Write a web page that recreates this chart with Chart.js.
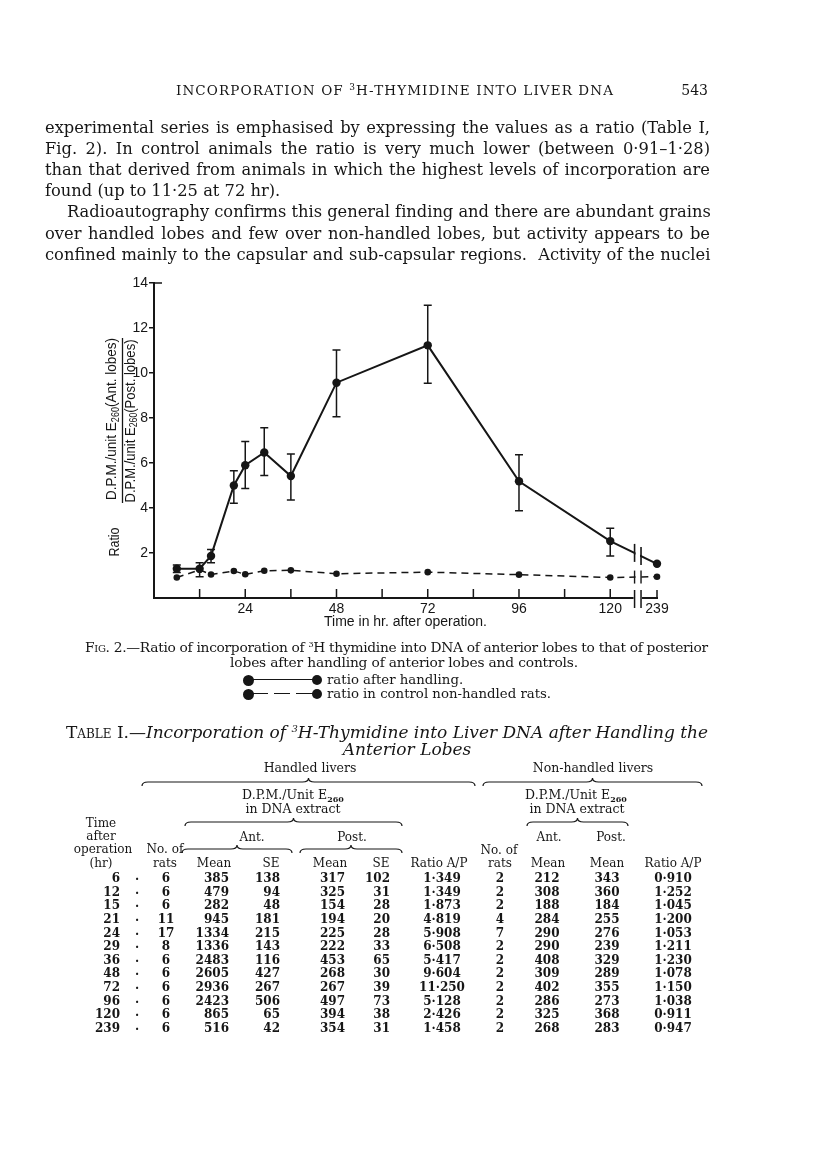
<!DOCTYPE html>
<html><head><meta charset="utf-8">
<script src="https://cdn.jsdelivr.net/npm/chart.js@4.4.0/dist/chart.umd.min.js"></script>
<style>
html,body{margin:0;padding:0;background:#fff;}
body{width:816px;height:1170px;position:relative;overflow:hidden;font-family:"DejaVu Serif",serif;color:#161616;}
.t{position:absolute;white-space:nowrap;line-height:1;}
.sc{font-variant:small-caps;}
.num{font-weight:bold;font-size:12px;}
.hd{font-size:12px;}
sub.s{font-size:8px;vertical-align:-3px;font-weight:bold;}
#chartBox{position:absolute;left:60px;top:270px;width:620px;height:370px;}
.dot{position:absolute;border-radius:50%;background:#161616;}
.bar{position:absolute;height:0;border-top:1.5px solid #161616;}
</style></head><body>
<div id="chartBox"><canvas id="c" width="620" height="370"></canvas></div>
<svg id="braces" width="816" height="1170" style="position:absolute;left:0;top:0;pointer-events:none"></svg>
<script>
// ---------- DATA ----------
const hours = [6, 12, 15, 21, 24, 29, 36, 48, 72, 96, 120, 239];
// ratio after handling, as plotted in Fig. 2
const handledRatio = [1.30, 1.30, 1.87, 5.00, 5.90, 6.47, 5.42, 9.57, 11.23, 5.19, 2.53, 1.52];
const handledUpper = [1.47, 1.57, 2.16, 5.66, 6.96, 7.57, 6.40, 11.02, 13.01, 6.37, 3.10, null];
const handledLower = [1.13, 0.95, 1.57, 4.21, 4.87, 5.44, 4.36, 8.06, 9.54, 3.88, 1.87, null];
// Table I columns
const handledRats = [6, 6, 6, 11, 17, 8, 6, 6, 6, 6, 6, 6];
const antMean = [385, 479, 282, 945, 1334, 1336, 2483, 2605, 2936, 2423, 865, 516];
const antSE = [138, 94, 48, 181, 215, 143, 116, 427, 267, 506, 65, 42];
const postMean = [317, 325, 154, 194, 225, 222, 453, 268, 267, 497, 394, 354];
const postSE = [102, 31, 28, 20, 28, 33, 65, 30, 39, 73, 38, 31];
const ratioAP = [1.349, 1.349, 1.873, 4.819, 5.908, 6.508, 5.417, 9.604, 11.250, 5.128, 2.426, 1.458];
const controlRats = [2, 2, 2, 4, 7, 2, 2, 2, 2, 2, 2, 2];
const controlAnt = [212, 308, 188, 284, 290, 290, 408, 309, 402, 286, 325, 268];
const controlPost = [343, 360, 184, 255, 276, 239, 329, 289, 355, 273, 368, 283];
const controlRatio = [0.910, 1.252, 1.045, 1.200, 1.053, 1.211, 1.230, 1.078, 1.150, 1.038, 0.911, 0.947];
// axis
const xTickMarks = [12, 24, 36, 48, 60, 72, 84, 96, 108, 120];
const xTickLabels = [24, 48, 72, 96, 120, 239];
const yTickLabels = [2, 4, 6, 8, 10, 12, 14];

// ---------- broken x axis ----------
const BREAK_POS = 132.3;           // axis position where 239 hr is drawn
const BREAK_L = 126.4, BREAK_R = 128.1;
function axisPos(h){ return h > 130 ? BREAK_POS : h; }

const INK = '#161616';
const SANS = 'Liberation Sans, Arial, sans-serif';

function drawRotText(ctx, cx, cy, parts, target){
  const big = '15px ' + SANS, small = '10px ' + SANS;
  let total = 0;
  parts.forEach(p => { ctx.font = p.sub ? small : big; p.w = ctx.measureText(p.t).width; total += p.w; });
  const k = target / total;
  ctx.save();
  ctx.translate(cx, cy); ctx.rotate(-Math.PI/2); ctx.scale(k, 1);
  ctx.fillStyle = INK; ctx.textBaseline = 'middle'; ctx.textAlign = 'left';
  let xx = -total/2;
  parts.forEach(p => { ctx.font = p.sub ? small : big; ctx.fillText(p.t, xx, p.sub ? 4 : 0); xx += p.w; });
  ctx.restore();
}

const paperPlugin = {
  id: 'paper',
  afterDatasetsDraw(chart){
    const {ctx, scales:{x, y}, chartArea} = chart;
    ctx.save();
    ctx.strokeStyle = INK; ctx.lineWidth = 1.5;
    // error bars
    hours.forEach((h, i) => {
      if (handledUpper[i] == null) return;
      const px = x.getPixelForValue(axisPos(h));
      const yu = y.getPixelForValue(handledUpper[i]), yl = y.getPixelForValue(handledLower[i]);
      ctx.beginPath();
      ctx.moveTo(px, yu); ctx.lineTo(px, yl);
      ctx.moveTo(px-4, yu); ctx.lineTo(px+4, yu);
      ctx.moveTo(px-4, yl); ctx.lineTo(px+4, yl);
      ctx.stroke();
    });
    // break gap
    const bx1 = x.getPixelForValue(BREAK_L), bx2 = x.getPixelForValue(BREAK_R);
    const yb = y.getPixelForValue(0);
    ctx.fillStyle = '#fff';
    ctx.fillRect(bx1+1, chartArea.top, bx2-bx1-2, yb - chartArea.top + 14);
    const n = hours.length;
    const xa = x.getPixelForValue(axisPos(hours[n-2])), xb = x.getPixelForValue(axisPos(hours[n-1]));
    [[handledRatio, 9, 1.6], [controlRatio, 6.5, 1.4]].forEach(([arr, hh, lw]) => {
      const ya = y.getPixelForValue(arr[n-2]), ybb = y.getPixelForValue(arr[n-1]);
      ctx.lineWidth = lw;
      [bx1, bx2].forEach(bx => {
        const yy = ya + (ybb - ya) * (bx - xa) / (xb - xa);
        ctx.beginPath(); ctx.moveTo(bx, yy-hh); ctx.lineTo(bx, yy+hh); ctx.stroke();
      });
    });
    // x axis line with gap
    ctx.lineWidth = 2;
    const xEnd = x.getPixelForValue(BREAK_POS);
    ctx.beginPath();
    ctx.moveTo(chartArea.left - 1, yb); ctx.lineTo(bx1 - 1, yb);
    ctx.moveTo(bx2 + 1, yb); ctx.lineTo(xEnd + 1, yb);
    ctx.stroke();
    ctx.lineWidth = 1.5;
    ctx.beginPath();
    xTickMarks.forEach(h => { const px = x.getPixelForValue(h); ctx.moveTo(px, yb); ctx.lineTo(px, yb - 9); });
    ctx.moveTo(xEnd, yb); ctx.lineTo(xEnd, yb - 8);
    ctx.moveTo(bx1, yb - 8); ctx.lineTo(bx1, yb + 10);
    ctx.moveTo(bx2, yb - 8); ctx.lineTo(bx2, yb + 10);
    // stub at top of y axis
    ctx.moveTo(chartArea.left, chartArea.top); ctx.lineTo(chartArea.left + 8, chartArea.top);
    ctx.stroke();
    ctx.restore();
  },
  afterDraw(chart){
    const ctx = chart.ctx;
    drawRotText(ctx, 55, 272, [{t:'Ratio'}], 29);
    drawRotText(ctx, 52, 149, [{t:'D.P.M./unit E'}, {t:'260', sub:true}, {t:'(Ant. lobes)'}], 162);
    drawRotText(ctx, 70.5, 151, [{t:'D.P.M./unit E'}, {t:'260', sub:true}, {t:'(Post. lobes)'}], 163);
    ctx.save(); ctx.strokeStyle = INK; ctx.lineWidth = 1.3;
    ctx.beginPath(); ctx.moveTo(62.5, 68); ctx.lineTo(62.5, 233); ctx.stroke(); ctx.restore();
  }
};

new Chart(document.getElementById('c'), {
  type: 'line',
  data: { datasets: [
    { label: 'ratio after handling', data: hours.map((h, i) => ({x: axisPos(h), y: handledRatio[i]})),
      borderColor: INK, backgroundColor: INK, borderWidth: 2, pointRadius: 4.2, pointBorderWidth: 0,
      pointBackgroundColor: INK, tension: 0, clip: false },
    { label: 'ratio in control non-handled rats', data: hours.map((h, i) => ({x: axisPos(h), y: controlRatio[i]})),
      borderColor: INK, backgroundColor: INK, borderWidth: 1.5, borderDash: [7, 5], pointRadius: 3.3, pointBorderWidth: 0,
      pointBackgroundColor: INK, tension: 0, clip: false }
  ]},
  options: {
    responsive: false, animation: false, devicePixelRatio: 1,
    layout: { padding: { top: 13, right: 23, left: 0, bottom: 0 } },
    plugins: { legend: { display: false }, tooltip: { enabled: false } },
    scales: {
      x: { type: 'linear', min: 0, max: BREAK_POS,
        afterBuildTicks(s){ s.ticks = xTickLabels.map(h => ({ value: axisPos(h) })); },
        afterFit(s){ s.height = 42; },
        grid: { display: false, drawTicks: false }, border: { display: false },
        ticks: { autoSkip: false, maxRotation: 0, padding: 3, color: INK, font: { family: SANS, size: 14 },
          callback: v => v === BREAK_POS ? '239' : String(v) },
        title: { display: true, text: 'Time in hr. after operation.', color: INK, font: { family: SANS, size: 14 }, padding: { top: 0, bottom: 9 } }
      },
      y: { min: 0, max: 14,
        afterBuildTicks(s){ s.ticks = [0].concat(yTickLabels).map(v => ({ value: v })); },
        afterFit(s){ s.width = 94; },
        ticks: { padding: 1, color: INK, font: { family: SANS, size: 14 }, callback: v => v === 0 ? '' : String(v) },
        grid: { drawOnChartArea: false, tickLength: 5, lineWidth: 1.5, color: c => (c.tick && c.tick.value === 0) ? 'rgba(0,0,0,0)' : INK },
        border: { color: INK, width: 2 }
      }
    }
  },
  plugins: [paperPlugin]
});

// ---------- page text ----------
function put(html, x, y, align, cls, size){
  const d = document.createElement('div');
  d.className = 't ' + (cls || '');
  d.innerHTML = html;
  d.style.left = x + 'px'; d.style.top = y + 'px';
  if (size) d.style.fontSize = size + 'px';
  d.style.transform = align === 'c' ? 'translate(-50%,-50%)' : align === 'r' ? 'translate(-100%,-50%)' : 'translate(0,-50%)';
  document.body.appendChild(d);
  return d;
}
function fit(el, width, mode){
  const nat = el.getBoundingClientRect().width;
  const extra = width - nat;
  const txt = el.textContent;
  const spaces = (txt.match(/ /g) || []).length;
  if (mode === 'words' && extra > 0 && spaces > 0) el.style.wordSpacing = (extra / spaces) + 'px';
  else el.style.letterSpacing = (extra / Math.max(1, txt.length - 1)) + 'px';
}
function line(html, x, cy, width, size, mode){
  const d = put(html, x, cy, 'l', '', size);
  if (width) fit(d, width, mode || 'words');
  return d;
}

// running head
const rh = put('INCORPORATION OF <sup style="font-size:9px">3</sup>H-THYMIDINE INTO LIVER DNA', 176, 90, 'l', '', 13.5);
fit(rh, 437, 'letters');
put('543', 708, 90, 'r', '', 14);

// body text
const body = [
  ['experimental series is emphasised by expressing the values as a ratio (Table I,', 45, 128, 665],
  ['Fig. 2). In control animals the ratio is very much lower (between 0·91–1·28)', 45, 149, 665],
  ['than that derived from animals in which the highest levels of incorporation are', 45, 170, 665],
  ['found (up to 11·25 at 72 hr).', 45, 191, 0],
  ['Radioautography confirms this general finding and there are abundant grains', 67, 212, 643],
  ['over handled lobes and few over non-handled lobes, but activity appears to be', 45, 233.5, 665],
  ['confined mainly to the capsular and sub-capsular regions.&nbsp; Activity of the nuclei', 45, 255, 665]
];
body.forEach(b => line(b[0], b[1], b[2], b[3], 16.3));

// caption
line('<span class="sc">Fig</span>. 2.—Ratio of incorporation of <sup style="font-size:8px">3</sup>H thymidine into DNA of anterior lobes to that of posterior', 85, 648, 623, 13.8);
const cap2 = put('lobes after handling of anterior lobes and controls.', 404, 663, 'c', '', 13.8);
fit(cap2, 348, 'words');

// legend
function dot(cx, cy, r){ const d = document.createElement('div'); d.className = 'dot';
  d.style.left = (cx - r) + 'px'; d.style.top = (cy - r) + 'px'; d.style.width = d.style.height = (2*r) + 'px'; document.body.appendChild(d); }
function seg(x1, x2, y){ const d = document.createElement('div'); d.className = 'bar';
  d.style.left = x1 + 'px'; d.style.width = (x2 - x1) + 'px'; d.style.top = (y - 0.75) + 'px'; document.body.appendChild(d); }
dot(248, 680, 5.5); seg(252, 313, 680); dot(317, 680, 5);
put('ratio after handling.', 327, 680, 'l', '', 13.3);
dot(248, 694, 5.5); seg(252, 268, 694); seg(274, 290, 694); seg(296, 313, 694); dot(317, 694, 5);
put('ratio in control non-handled rats.', 327, 694, 'l', '', 13.3);

// table title
line('<span class="sc" style="font-style:normal">Table I</span>.—<i>Incorporation of <sup style="font-size:10px">3</sup>H-Thymidine into Liver DNA after Handling the</i>', 66, 732, 642, 17);
put('<i>Anterior Lobes</i>', 407, 749, 'c', '', 17);

// table headers
const H = 'hd';
put('Handled livers', 310, 768, 'c', H, 12.5);
put('Non-handled livers', 593, 768, 'c', H, 12.5);
put('D.P.M./Unit E<sub class="s">260</sub>', 293, 796, 'c', H, 12.5);
put('in DNA extract', 293, 809, 'c', H, 12.5);
put('D.P.M./Unit E<sub class="s">260</sub>', 576, 796, 'c', H, 12.5);
put('in DNA extract', 577, 809, 'c', H, 12.5);
put('Time', 101, 823, 'c', H); put('after', 101, 836, 'c', H); put('operation', 103, 849, 'c', H); put('(hr)', 101, 863, 'c', H);
put('Ant.', 252, 837, 'c', H); put('Post.', 352, 837, 'c', H);
put('Ant.', 549, 837, 'c', H); put('Post.', 611, 837, 'c', H);
put('No. of', 165, 849, 'c', H); put('rats', 165, 863, 'c', H);
put('No. of', 499, 850, 'c', H); put('rats', 500, 863, 'c', H);
put('Mean', 214, 863, 'c', H); put('SE', 271, 863, 'c', H);
put('Mean', 330, 863, 'c', H); put('SE', 381, 863, 'c', H);
put('Ratio A/P', 439, 863, 'c', H);
put('Mean', 548, 863, 'c', H); put('Mean', 607, 863, 'c', H);
put('Ratio A/P', 673, 863, 'c', H);

// braces
const braces = [[142, 475, 782], [483, 702, 782], [185, 402, 822], [527, 628, 822], [182, 292, 849], [300, 402, 849]];
const svg = document.getElementById('braces');
braces.forEach(([x1, x2, y]) => {
  const m = (x1 + x2) / 2;
  const p = document.createElementNS('http://www.w3.org/2000/svg', 'path');
  p.setAttribute('d', `M${x1},${y+4} Q${x1},${y} ${x1+6},${y} L${m-6},${y} Q${m},${y} ${m},${y-4} Q${m},${y} ${m+6},${y} L${x2-6},${y} Q${x2},${y} ${x2},${y+4}`);
  p.setAttribute('fill', 'none'); p.setAttribute('stroke', INK); p.setAttribute('stroke-width', '1.2');
  svg.appendChild(p);
});

// table rows
const fmt = v => v.toFixed(3).replace('.', '·');
hours.forEach((h, i) => {
  const y = 878 + 13.64 * i;
  put(String(h), 120, y, 'r', 'num');
  put('.', 137, y - 2, 'c', 'num');
  put(String(handledRats[i]), 166, y, 'c', 'num');
  put(String(antMean[i]), 229, y, 'r', 'num');
  put(String(antSE[i]), 280, y, 'r', 'num');
  put(String(postMean[i]), 345, y, 'r', 'num');
  put(String(postSE[i]), 390, y, 'r', 'num');
  put(fmt(ratioAP[i]), 442, y, 'c', 'num');
  put(String(controlRats[i]), 500, y, 'c', 'num');
  put(String(controlAnt[i]), 547, y, 'c', 'num');
  put(String(controlPost[i]), 607, y, 'c', 'num');
  put(fmt(controlRatio[i]), 673, y, 'c', 'num');
});
</script>
</body></html>
